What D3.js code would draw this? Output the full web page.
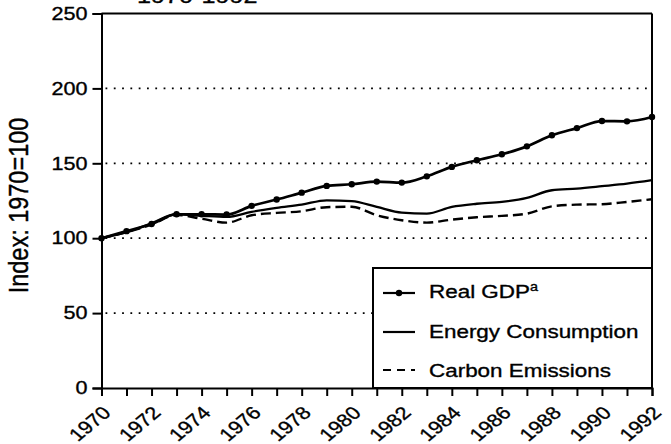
<!DOCTYPE html>
<html>
<head>
<meta charset="utf-8">
<script src="https://cdn.jsdelivr.net/npm/d3@7"></script>
<style>
  html, body { margin: 0; padding: 0; background: #fff; }
  svg text { font-family: "Liberation Sans", Arial, Helvetica, sans-serif; fill: #000; stroke: #000; stroke-width: 0.35px; }
</style>
</head>
<body>
<svg id="chart" width="671" height="444"></svg>
<script>
const years = d3.range(1970, 1993);
const gdp = [100, 104.7, 109.5, 116, 116, 115.8, 121.6, 125.8, 130.4, 134.9, 136, 137.8, 137.1, 141.3, 147.6, 152, 156, 161.3, 168.7, 173.5, 178.2, 178, 180.9];
const energy = [100, 104, 110, 116, 115, 114.2, 117.6, 120.2, 122.4, 125.3, 124.7, 120.9, 117.1, 116.4, 120.9, 123, 124.2, 126.9, 132, 133.1, 134.7, 136.4, 138.7];
const carbon = [100, 104, 109, 115.5, 113, 110.4, 115.3, 116.9, 118, 120.7, 121, 115.3, 112, 110.4, 112.4, 114, 114.9, 116.4, 121.3, 122.4, 122.7, 124.2, 126];
const yTicks = [0, 50, 100, 150, 200, 250];
const gridValues = [50, 100, 150, 200];
const xTicks = years;
const xLabelYears = d3.range(1970, 1993, 2);
const legendLabels = ["Real GDP", "Energy Consumption", "Carbon Emissions"];
const titleText = "1970-1992";
const yLabel = "Index:  1970=100";

const SX = 1.2; // horizontal stretch of the scanned lettering
const svg = d3.select("#chart");
const x = d3.scaleLinear().domain([1970, 1992]).range([101.5, 652]);
const y = d3.scaleLinear().domain([0, 250]).range([388, 13.5]);

// title (cut off at top, as in the reference)
svg.append("text").attr("transform", `translate(137,3) scale(${SX},1)`)
  .style("font-size", "21px")
  .text(titleText);

// gridlines
svg.append("g").selectAll("line").data(gridValues).join("line")
  .attr("x1", x(1970) + 4).attr("x2", x(1992))
  .attr("y1", d => y(d)).attr("y2", d => y(d))
  .attr("stroke", "#000").attr("stroke-width", 1.8)
  .attr("stroke-dasharray", "1.8 6.5");

// frame top & right
svg.append("line").attr("x1", x(1970)).attr("x2", x(1992)).attr("y1", y(250)).attr("y2", y(250))
  .attr("stroke", "#000").attr("stroke-width", 1.8);
svg.append("line").attr("x1", x(1992)).attr("x2", x(1992)).attr("y1", y(250)).attr("y2", y(0))
  .attr("stroke", "#000").attr("stroke-width", 2);

// axes
const yAxis = d3.axisLeft(y).tickValues(yTicks).tickSize(9).tickPadding(5).tickFormat(d3.format("d"));
const gy = svg.append("g").attr("transform", `translate(${x(1970)},0)`).call(yAxis);
gy.select(".domain").attr("stroke-width", 2);
gy.selectAll(".tick line").attr("stroke-width", 2);
gy.selectAll(".tick text").style("font-size", "18px").attr("fill", "#000")
  .attr("x", -14 / SX).attr("transform", `scale(${SX},1)`);

const xAxis = d3.axisBottom(x).tickValues(xTicks).tickSize(8).tickFormat(d => xLabelYears.includes(d) ? String(d) : "");
const gx = svg.append("g").attr("transform", `translate(0,${y(0)})`).call(xAxis);
gx.select(".domain").attr("stroke-width", 2);
gx.selectAll(".tick line").attr("stroke-width", 2);
gx.selectAll(".tick text")
  .style("font-size", "18px").attr("fill", "#000")
  .attr("text-anchor", "end")
  .attr("y", 0).attr("dy", "0")
  .attr("transform", `translate(10,26) scale(${SX},1) rotate(-45)`);

// y label
svg.append("text")
  .attr("transform", `translate(28,${(113 + 298) / 2}) scale(${SX},1) rotate(-90)`)
  .attr("text-anchor", "middle")
  .style("font-size", "23.5px")
  .text(yLabel);

// lines
const curve = d3.curveMonotoneX;
const mk = arr => d3.line().x((d, i) => x(years[i])).y(d => y(d)).curve(curve)(arr);
svg.append("path").attr("d", mk(carbon)).attr("fill", "none").attr("stroke", "#000")
  .attr("stroke-width", 2.4).attr("stroke-dasharray", "10 5");
svg.append("path").attr("d", mk(energy)).attr("fill", "none").attr("stroke", "#000")
  .attr("stroke-width", 2.3);
svg.append("path").attr("d", mk(gdp)).attr("fill", "none").attr("stroke", "#000")
  .attr("stroke-width", 2.7);
svg.append("g").selectAll("circle").data(gdp).join("circle")
  .attr("cx", (d, i) => x(years[i])).attr("cy", d => y(d)).attr("r", 3.2).attr("fill", "#000");

// legend
const lg = svg.append("g");
lg.append("rect").attr("x", 373).attr("y", 268).attr("width", x(1992) - 373).attr("height", y(0) - 268)
  .attr("fill", "#fff").attr("stroke", "#000").attr("stroke-width", 2);
const rowsY = [293, 332, 370];
const textY = [298, 338, 377];
const dashes = [null, null, "8 6"];
legendLabels.forEach((lab, i) => {
  lg.append("line").attr("x1", 383).attr("x2", 415).attr("y1", rowsY[i]).attr("y2", rowsY[i])
    .attr("stroke", "#000").attr("stroke-width", 2.2).attr("stroke-dasharray", dashes[i]);
  if (i === 0) lg.append("circle").attr("cx", 399).attr("cy", rowsY[i]).attr("r", 3.2).attr("fill", "#000");
  const t = lg.append("text").attr("transform", `translate(429,${textY[i]}) scale(${SX},1)`)
    .style("font-size", "18.7px").text(lab);
  if (i === 0) t.append("tspan").attr("dy", "-0.55em").style("font-size", "12px").text("a");
});
</script>
</body>
</html>
